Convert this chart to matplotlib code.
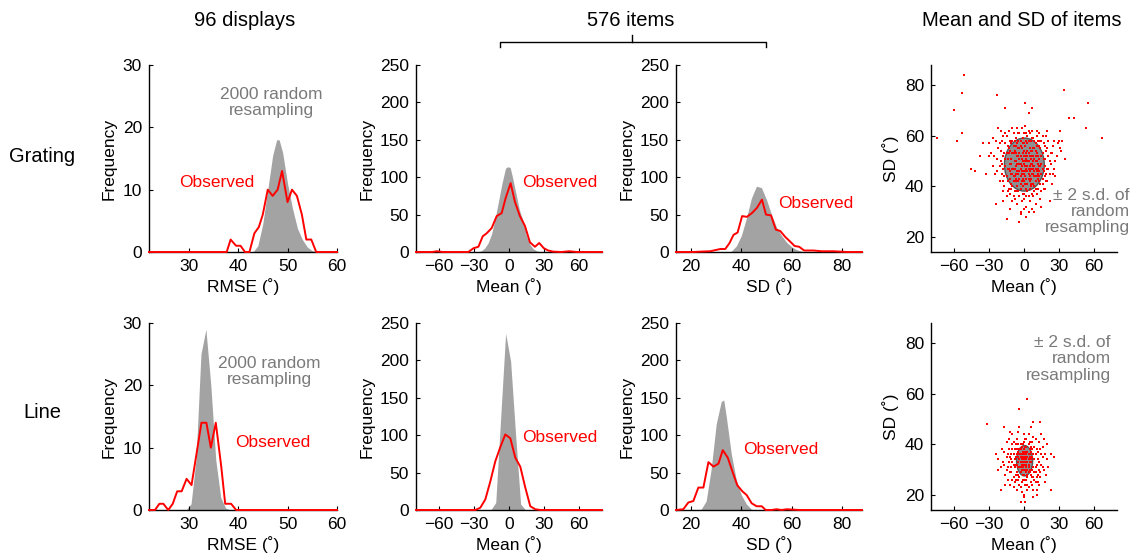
import matplotlib
matplotlib.use("Agg")
import matplotlib.pyplot as plt
from matplotlib.patches import Ellipse
from matplotlib.lines import Line2D

plt.rcParams["font.family"] = ["Liberation Sans", "DejaVu Sans"]

GRAY = "#a3a3a3"
TXT_GRAY = "#7a7a7a"
RED = "#ff0000"

# ---------------- Grating row ----------------
rmse_g_gray_x = [43, 44, 45, 46, 47, 47.8, 48.3, 49, 50, 51, 52, 53, 54, 55, 56]
rmse_g_gray_y = [0, 1, 4.5, 10, 15.5, 18, 18, 16, 11, 7, 3.8, 2, 0.8, 0.2, 0]
rmse_g_obs_x = [22, 37.7, 38.5, 39.6, 40.5, 41.4, 42.3, 43.3, 44.2, 45, 46, 47, 48, 48.9,
                50, 50.9, 51.9, 52.9, 53.8, 54.8, 55.8, 60]
rmse_g_obs_y = [0, 0, 2, 1, 1, 0, 0, 3, 4, 6, 10, 9, 10, 13, 8, 10, 9, 6, 2, 2, 0, 0]

mean_g_gray_x = [-27, -24, -21, -18, -15, -12, -9, -6, -3, -1, 1, 3, 6, 9, 12, 15, 18, 21, 24, 27]
mean_g_gray_y = [0, 1.5, 5, 12, 24, 44, 68, 92, 112, 114, 113, 100, 78, 56, 42, 22, 10, 4, 1.5, 0]
mean_g_obs_x = [-80, -66, -62, -57, -35, -30.6, -26.3, -22.6, -19.2, -14.9, -10.6, -6.3, -2.9, 1.4,
                5.1, 9.4, 13.7, 18, 22.3, 26, 30, 33.7, 38, 45, 52, 58, 80]
mean_g_obs_y = [0, 0, 1, 0, 0, 5, 7, 21, 25, 32, 48, 52, 72, 92,
                67, 48, 35, 13, 7, 12, 5, 2, 0.5, 0, 1, 0, 0]

sd_g_gray_x = [34, 36, 38, 40, 42, 44, 46, 48, 50, 52, 54, 56, 58, 60, 62, 64, 66]
sd_g_gray_y = [0, 1, 8, 22, 45, 72, 88, 86, 70, 50, 33, 22, 13, 7, 3, 1, 0]
sd_g_obs_x = [14, 21, 23.6, 27.6, 30.3, 31.6, 33.6, 35.3, 36.9, 38.5, 40.3, 42.2, 44.2, 46.2, 48.2,
              49.8, 51.8, 53.7, 55.5, 57.5, 59.4, 61.2, 63, 65, 68.7, 72, 74, 76.6, 82, 88]
sd_g_obs_y = [0, 0, 0.5, 1, 3, 4, 4, 12, 23, 26, 48, 47, 52, 59, 70,
              50, 49, 30, 28, 20, 14, 8, 7, 2, 2, 1, 1, 1, 0, 0]

# ---------------- Line row ----------------
rmse_l_gray_x = [29.5, 30.5, 31.5, 32.5, 33.0, 33.5, 34.5, 35.5, 36.5, 37.5, 38.5]
rmse_l_gray_y = [0, 1, 8, 25, 27, 29, 20, 8, 2, 0.3, 0]
rmse_l_obs_x = [22, 23.2, 24.1, 24.9, 25.9, 26.8, 27.7, 28.6, 29.6, 30.6, 31.6, 32.6, 33.6,
                34.5, 35.5, 36.6, 37.4, 38.6, 39.6, 60]
rmse_l_obs_y = [0, 0, 1, 1, 0, 1, 3, 3, 5, 4, 9, 14, 14, 10, 14, 7, 1, 1, 0, 0]

mean_l_gray_x = [-15.7, -11.4, -7.1, -2.9, 1.4, 5.7, 10, 14.3]
mean_l_gray_y = [0, 10, 125, 236, 199, 100, 8, 0]
mean_l_obs_x = [-80, -29, -24.7, -20.4, -16.1, -11.8, -7.5, -3.2, 1.1, 5.4, 9.7, 14, 18.3,
                22.6, 26.9, 80]
mean_l_obs_y = [0, 0, 3, 14, 38, 65, 84, 101, 96, 70, 58, 30, 5, 1, 0, 0]

sd_l_gray_x = [22, 24, 26, 28, 30, 32, 33, 34, 36, 38, 40, 42, 44, 46]
sd_l_gray_y = [0, 1, 12, 55, 115, 145, 147, 125, 75, 40, 20, 8, 1, 0]
sd_l_obs_x = [14, 16.9, 18.9, 20.9, 22.9, 24.9, 26.9, 28.9, 30.9, 32.6, 34.6, 36.6, 38.4, 40.4,
              42.1, 44.1, 46.1, 48.1, 49.7, 52, 54, 56, 58, 63, 88]
sd_l_obs_y = [0, 1, 10, 12, 30, 30, 64, 58, 62, 80, 70, 50, 33, 25,
              20, 9, 5, 5, 0, 0, 1, 0, 1, 0, 0]

# ---------------- Scatter: item mean / SD ----------------
scat_g_x = [-18, -15, -12, -10, -8, -6, -4, -2, 0, 2, 4, 6, 8, 10, 12, 14, 16, 18,
            -16, -13, -11, -9, -7, -5, -3, -1, 1, 3, 5, 7, 9, 11, 13, 15, 17, 19,
            -20, -17, -14, -12, -9, -7, -4, -2, 0, 1, 3, 5, 7, 9, 11, 13, 16, 20,
            -22, -19, -15, -13, -10, -8, -6, -3, -1, 2, 4, 6, 8, 10, 12, 14, 17, 21,
            -24, -21, -18, -16, -11, -8, -5, -3, 0, 1, 3, 6, 8, 11, 13, 15, 18, 23,
            -25, -20, -14, -12, -9, -6, -4, -2, 0, 2, 4, 6, 9, 10, 12, 16, 19, 25,
            -6, -2, 2, 5, 8, -10, 10, 0, -4, 4, 14, -15, -3, 7, -8,
            -19, -23, -17, -13, -5, 1, 4, 7, 11, 15, 20, 22, 24, -21, -18, 18, 13, -1, 3, -7, 5, -11, 9, -14,
            -11, -9, -7, -5, -3, -1, 1, 3, 5, 7, 9, 11,
            -10, -8, -6, -4, -2, 0, 2, 4, 6, 8, 10, 12,
            -12, -9, -7, -5, -3, -1, 1, 3, 5, 7, 9, 11,
            -11, -8, -6, -4, -2, 0, 2, 4, 6, 8, 10, 12,
            -13, -10, -5, -1, 2, 6, 9, 13, -7, 4, 0, -3,
            26, 28, 29, 27, 24, 30, 31, 26,
            -21, -19, -17, -16, -14, -13, -12, -10, -9, -8, -7, -6, -5, -4, -3, -2, -1, 0, 1, 2,
            3, 4, 5, 6, 7, 8, 9, 10, 11, 12, 13, 14, 15, 16, 17, 18, 19, 20, 21, 22,
            -23, -20, -18, -15, -11, -10, -8, -6, -5, -3, -1, 0, 2, 3, 5, 7, 8, 10, 11, 12,
            14, 15, 17, 19, 21, 23, -26, -27, 27, 25,
            -18, -16, -14, -12, -9, -7, -4, -2, 1, 3, 5, 8, 10, 13, 16, 18,
            -52, -53, -23, -60, -16, 1, 7, 4, 34, 55, 39, 43, 53, -75, -58, -53, 67, -46, -42, 31,
            -15, -4, -3, -22, -27, -30, -35, -38, -28, 32, 35, 33, 2, 9, 15, -12, -18, -30, -33, 22, 20, -24]
scat_g_y = [52, 44, 58, 40, 50, 46, 55, 42, 49, 53, 45, 58, 41, 50, 47, 55, 43, 51,
            48, 55, 45, 61, 38, 52, 47, 59, 44, 50, 39, 54, 46, 60, 42, 49, 57, 45,
            50, 40, 51, 37, 47, 56, 43, 51, 37, 56, 41, 48, 62, 38, 53, 44, 53, 47,
            55, 45, 60, 39, 53, 44, 63, 39, 46, 61, 36, 51, 45, 57, 39, 48, 46, 52,
            58, 48, 42, 57, 49, 35, 58, 52, 42, 52, 57, 43, 55, 44, 61, 38, 56, 49,
            45, 62, 47, 43, 42, 40, 49, 63, 54, 39, 53, 47, 51, 42, 58, 41, 60, 56,
            33, 34, 32, 34, 36, 34, 33, 31, 36, 30, 35, 36, 30, 31, 38,
            58, 51, 53, 62, 61, 64, 62, 59, 56, 58, 55, 45, 41, 42, 38, 39, 51, 40, 46, 48, 55, 57, 44, 42,
            51, 44, 53, 45, 56, 43, 48, 54, 44, 49, 55, 46,
            47, 54, 42, 51, 45, 57, 43, 50, 54, 48, 44, 52,
            46, 56, 43, 49, 44, 53, 41, 48, 52, 45, 58, 50,
            41, 47, 57, 46, 55, 45, 51, 43, 49, 52, 47, 43,
            53, 58, 42, 50, 47, 41, 48, 46, 59, 58, 52, 49,
            47, 52, 57, 44, 53, 58, 55, 58,
            57, 49, 44, 61, 38, 47, 54, 63, 36, 58, 45, 52, 38, 61, 41, 48, 57, 35, 50, 58,
            38, 47, 61, 40, 52, 59, 40, 54, 37, 49, 56, 41, 52, 60, 39, 48, 54, 42, 58, 50,
            46, 54, 60, 53, 39, 45, 42, 49, 55, 58, 37, 61, 36, 60, 42, 37, 47, 39, 62, 45,
            58, 45, 51, 42, 47, 53, 52, 48, 50, 45,
            47, 51, 56, 49, 53, 50, 53, 46, 46, 52, 46, 50, 52, 48, 47, 44,
            84, 77, 76, 70, 71, 73, 71, 69, 78, 73, 67, 67, 63, 59, 58, 61, 59, 47, 46, 62,
            27, 26, 29, 63, 59, 57, 57, 52, 53, 54, 51, 58, 28, 30, 32, 31, 34, 52, 45, 34, 62, 33]

scat_l_x = [-15, -12, -10, -8, -6, -4, -2, 0, 2, 4, 6, 8, 10, 12, 14,
            -14, -11, -9, -7, -5, -3, -1, 1, 3, 5, 7, 9, 11, 13, 16,
            -16, -13, -10, -8, -6, -3, -1, 1, 3, 5, 7, 9, 11, 14, 17,
            -18, -12, -9, -7, -4, -2, 0, 2, 4, 6, 8, 10, 12, 15, 19,
            -17, -14, -11, -8, -5, -3, -1, 1, 3, 5, 7, 10, 13, 16, 20,
            -20, -10, -5, 0, 4, 8, -13, 13, -6, -2, 3, 8, -9, 11, 0,
            -22, -19, -15, -16, 18, 21, 17, -4, 6, 1, -7, 7, -11, 10, -1,
            -6, -5, -4, -3, -2, -1, 0, 1, 2, 3, 4, 5, 6,
            -6, -5, -4, -3, -2, -1, 0, 1, 2, 3, 4, 5, 6,
            -5, -2, 0, 2, 4, -4, -1, 1, 3, 5, -3, 0, 2,
            -13, -11, -9, -7, -5, -3, -1, 1, 3, 5, 7, 9, 11, 13, 15,
            -12, -10, -8, -6, -4, -2, 0, 2, 4, 6, 8, 10, 12, 14, 16,
            -15, -9, -5, 2, 7, -17, 18, -14, 12, -7, 6, -3, 4, 9, -10,
            3, -4, -32, 8, 14, -17, 26, 23, -22, -20, 23, 1, 8, 0, -24, 20, -12, 15, -3, 11]
scat_l_y = [35, 29, 38, 31, 36, 27, 34, 30, 39, 32, 28, 36, 31, 37, 29,
            31, 36, 27, 40, 33, 29, 37, 26, 35, 41, 30, 34, 27, 33, 35,
            28, 38, 33, 25, 42, 38, 31, 42, 28, 36, 24, 39, 32, 38, 30,
            33, 24, 41, 35, 31, 25, 36, 29, 40, 33, 27, 42, 25, 32, 28,
            37, 26, 31, 38, 26, 35, 40, 33, 24, 30, 38, 29, 24, 39, 34,
            31, 44, 45, 44, 44, 43, 42, 41, 22, 21, 22, 22, 23, 22, 19,
            34, 38, 41, 24, 25, 31, 42, 47, 47, 24, 28, 27, 34, 36, 28,
            32, 37, 34, 31, 36, 33, 38, 30, 34, 37, 31, 35, 39,
            29, 35, 38, 33, 30, 35, 32, 37, 31, 33, 36, 29, 34,
            31, 39, 34, 36, 29, 36, 30, 35, 30, 38, 36, 28, 32,
            33, 29, 36, 32, 28, 40, 26, 39, 27, 33, 35, 29, 38, 30, 36,
            35, 26, 34, 38, 24, 32, 41, 26, 34, 37, 31, 25, 34, 27, 31,
            30, 32, 40, 42, 41, 32, 36, 36, 28, 26, 25, 23, 23, 26, 40,
            58, 54, 48, 49, 49, 47, 35, 36, 30, 22, 22, 17, 19, 20, 36, 40, 45, 44, 17, 20]

# ellipse: +/- 2 s.d. of random resampling (centre x, centre y, half-width, half-height)
ell_g = (0.3, 48.6, 17.1, 10.5)
ell_l = (0.5, 33.5, 6.9, 6.0)

W, H = 1140, 556
fig = plt.figure(figsize=(W / 100, H / 100), dpi=100)

cols_px = [(149, 337), (416, 602), (676, 862), (931, 1117)]
rows_px = [(65, 252), (323, 510)]


def make_ax(r, c):
    x0, x1 = cols_px[c]
    y0, y1 = rows_px[r]
    ax = fig.add_axes([x0 / W, 1 - y1 / H, (x1 - x0) / W, (y1 - y0) / H])
    for s in ("top", "right"):
        ax.spines[s].set_visible(False)
    for s in ("left", "bottom"):
        ax.spines[s].set_linewidth(1.0)
    ax.tick_params(direction="in", length=3, width=0.8, labelsize=12.5, pad=5)
    return ax


def hist_panel(ax, gx, gy, ox, oy, xlim, ylim, xticks, yticks, xlabel, obs_xy, obs_ha="left",
               rs_xy=None):
    ax.fill_between(gx, 0, gy, color=GRAY, lw=0, zorder=1)
    ax.plot(ox, oy, color=RED, lw=1.4, zorder=3, clip_on=False)
    ax.set_xlim(*xlim)
    ax.set_ylim(*ylim)
    ax.set_xticks(xticks)
    ax.set_yticks(yticks)
    ax.set_xlabel(xlabel, fontsize=12.5, labelpad=3)
    ax.set_ylabel("Frequency", fontsize=12.5, labelpad=4)
    ax.text(obs_xy[0], obs_xy[1], "Observed", color=RED, fontsize=12.5, ha=obs_ha, va="center")
    if rs_xy is not None:
        ax.text(rs_xy[0], rs_xy[1], "2000 random\nresampling", color=TXT_GRAY, fontsize=12.5,
                ha="center", va="center", linespacing=1.1)


def scatter_panel(ax, sx, sy, ell, note_xy, note_va):
    cx, cy, hw, hh = ell
    ax.add_patch(Ellipse((cx, cy), 2 * hw, 2 * hh, facecolor="#8f8f8f", edgecolor="#555555",
                         lw=1.0, zorder=1))
    ax.scatter(sx, sy, s=4.5, marker="s", color=RED, linewidths=0, zorder=2)
    ax.set_xlim(-80, 80)
    ax.set_ylim(14, 88)
    ax.set_xticks([-60, -30, 0, 30, 60])
    ax.set_yticks([20, 40, 60, 80])
    ax.set_xlabel("Mean (\u02da)", fontsize=12.5, labelpad=3)
    ax.set_ylabel("SD (\u02da)", fontsize=12.5, labelpad=4)
    ax.text(note_xy[0], note_xy[1], "\u00b1 2 s.d. of\nrandom\nresampling", color=TXT_GRAY,
            fontsize=12.5, ha="right", va=note_va, linespacing=1.1, clip_on=False)


# top row: grating
ax = make_ax(0, 0)
hist_panel(ax, rmse_g_gray_x, rmse_g_gray_y, rmse_g_obs_x, rmse_g_obs_y, (22, 60), (0, 30),
           [30, 40, 50, 60], [0, 10, 20, 30], "RMSE (\u02da)", (35.7, 11.2), "center", (46.8, 24.0))
ax = make_ax(0, 1)
hist_panel(ax, mean_g_gray_x, mean_g_gray_y, mean_g_obs_x, mean_g_obs_y, (-80, 80), (0, 250),
           [-60, -30, 0, 30, 60], [0, 50, 100, 150, 200, 250], "Mean (\u02da)", (11.1, 93))
ax = make_ax(0, 2)
hist_panel(ax, sd_g_gray_x, sd_g_gray_y, sd_g_obs_x, sd_g_obs_y, (14, 88), (0, 250),
           [20, 40, 60, 80], [0, 50, 100, 150, 200, 250], "SD (\u02da)", (54.6, 64.5))
ax = make_ax(0, 3)
scatter_panel(ax, scat_g_x, scat_g_y, ell_g, (91, 30), "center")

# bottom row: line
ax = make_ax(1, 0)
hist_panel(ax, rmse_l_gray_x, rmse_l_gray_y, rmse_l_obs_x, rmse_l_obs_y, (22, 60), (0, 30),
           [30, 40, 50, 60], [0, 10, 20, 30], "RMSE (\u02da)", (47.1, 10.8), "center", (46.4, 22.2))
ax = make_ax(1, 1)
hist_panel(ax, mean_l_gray_x, mean_l_gray_y, mean_l_obs_x, mean_l_obs_y, (-80, 80), (0, 250),
           [-60, -30, 0, 30, 60], [0, 50, 100, 150, 200, 250], "Mean (\u02da)", (11.1, 96.8))
ax = make_ax(1, 2)
hist_panel(ax, sd_l_gray_x, sd_l_gray_y, sd_l_obs_x, sd_l_obs_y, (14, 88), (0, 250),
           [20, 40, 60, 80], [0, 50, 100, 150, 200, 250], "SD (\u02da)", (40.7, 80.6))
ax = make_ax(1, 3)
scatter_panel(ax, scat_l_x, scat_l_y, ell_l, (74.6, 73.8), "center")

# headers and row labels
fig.text(245 / W, 1 - 21 / H, "96 displays", fontsize=14.5, ha="center", va="center")
fig.text(631 / W, 1 - 21 / H, "576 items", fontsize=14.5, ha="center", va="center")
fig.text(1022 / W, 1 - 21 / H, "Mean and SD of items", fontsize=14.5, ha="center", va="center")
fig.text(42 / W, 1 - 157 / H, "Grating", fontsize=14.5, ha="center", va="center")
fig.text(42 / W, 1 - 413 / H, "Line", fontsize=14.5, ha="center", va="center")

# bracket over the two item panels
bx = [500, 500, 766, 766]
by = [47, 41.7, 41.7, 47]
fig.add_artist(Line2D([v / W for v in bx], [1 - v / H for v in by], color="black", lw=1.0,
                      transform=fig.transFigure))
fig.add_artist(Line2D([632 / W, 632 / W], [1 - 41.7 / H, 1 - 35 / H], color="black", lw=1.0,
                      transform=fig.transFigure))

fig.savefig("out.png", dpi=100)
